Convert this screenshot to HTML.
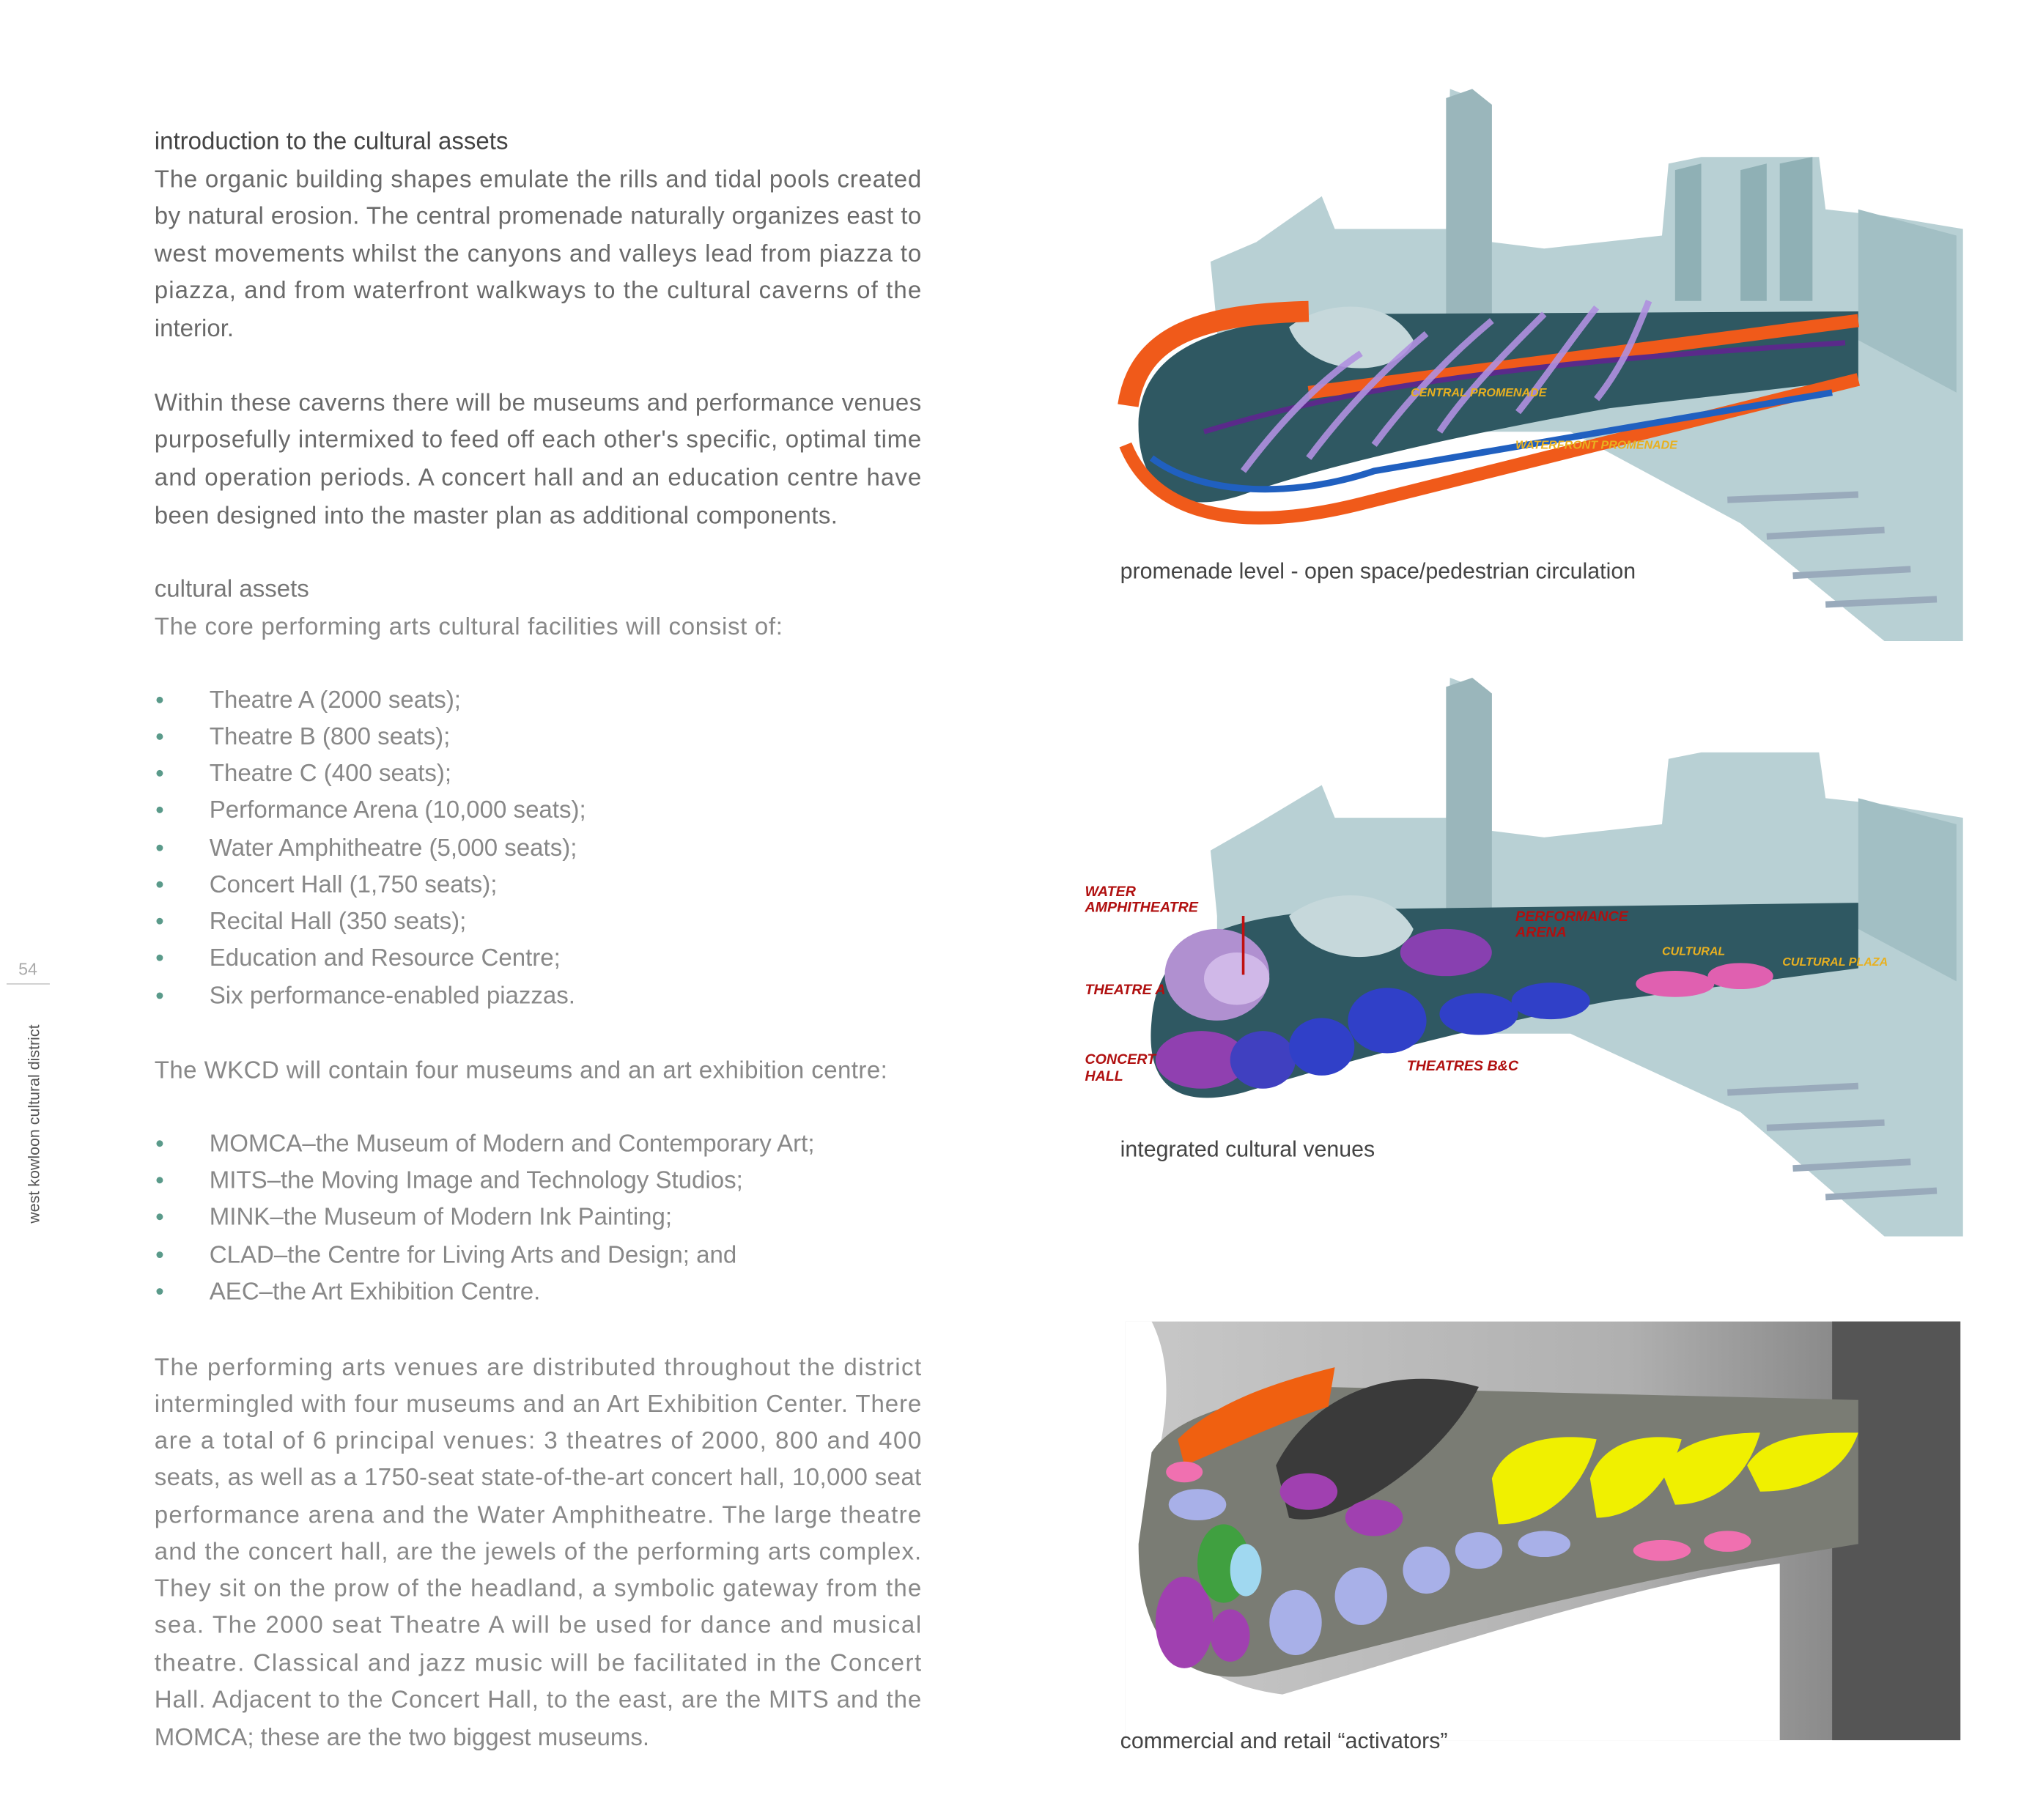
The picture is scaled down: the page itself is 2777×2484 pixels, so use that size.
<!DOCTYPE html>
<html><head><meta charset="utf-8"><style>
html,body{margin:0;padding:0;background:#fff;}
svg{display:block;}
.b{font-family:"Liberation Sans",sans-serif;font-size:18.5px;fill:#6a6a6a;}
.h{font-family:"Liberation Sans",sans-serif;font-size:18.5px;fill:#444;}
.c{font-family:"Liberation Sans",sans-serif;font-size:17px;fill:#444;}
.r{font-family:"Liberation Sans",sans-serif;font-size:11px;font-weight:bold;font-style:italic;fill:#b01010;}
.y{font-family:"Liberation Sans",sans-serif;font-size:9px;font-weight:bold;font-style:italic;fill:#e8b020;}
</style></head><body>
<svg width="2777" height="2484" viewBox="0 0 1555 1391" xmlns="http://www.w3.org/2000/svg">
<rect width="1555" height="1391" fill="#fff"/>
<text x="14" y="745" font-family="Liberation Sans,sans-serif" font-size="13" fill="#aaa">54</text>
<line x1="5" y1="752" x2="38" y2="752" stroke="#ccc" stroke-width="1"/>
<text transform="translate(30,935) rotate(-90)" font-family="Liberation Sans,sans-serif" font-size="12" fill="#555">west kowloon cultural district</text>

<text class="h" x="118" y="114">introduction to the cultural assets</text>
<g class="b">
<text x="118" y="143" textLength="586" lengthAdjust="spacing">The organic building shapes emulate the rills and tidal pools created</text>
<text x="118" y="171" textLength="586" lengthAdjust="spacing">by natural erosion. The central promenade naturally organizes east to</text>
<text x="118" y="200" textLength="586" lengthAdjust="spacing">west movements whilst the canyons and valleys lead from piazza to</text>
<text x="118" y="228" textLength="586" lengthAdjust="spacing">piazza, and from waterfront walkways to the cultural caverns of the</text>
<text x="118" y="257">interior.</text>
<text x="118" y="314" textLength="586" lengthAdjust="spacing">Within these caverns there will be museums and performance venues</text>
<text x="118" y="342" textLength="586" lengthAdjust="spacing">purposefully intermixed to feed off each other's specific, optimal time</text>
<text x="118" y="371" textLength="586" lengthAdjust="spacing">and operation periods. A concert hall and an education centre have</text>
<text x="118" y="400" textLength="522" lengthAdjust="spacing">been designed into the master plan as additional components.</text>
</g>
<text class="h" x="118" y="456" style="fill:#777">cultural assets</text>
<g class="b" style="fill:#888">
<text x="118" y="485" textLength="480" lengthAdjust="spacing">The core performing arts cultural facilities will consist of:</text>
<text x="160" y="541">Theatre A (2000 seats);</text>
<text x="160" y="569">Theatre B (800 seats);</text>
<text x="160" y="597">Theatre C (400 seats);</text>
<text x="160" y="625">Performance Arena (10,000 seats);</text>
<text x="160" y="654">Water Amphitheatre (5,000 seats);</text>
<text x="160" y="682">Concert Hall (1,750 seats);</text>
<text x="160" y="710">Recital Hall (350 seats);</text>
<text x="160" y="738">Education and Resource Centre;</text>
<text x="160" y="767">Six performance-enabled piazzas.</text>
<text x="118" y="824" textLength="560" lengthAdjust="spacing">The WKCD will contain four museums and an art exhibition centre:</text>
<text x="160" y="880">MOMCA–the Museum of Modern and Contemporary Art;</text>
<text x="160" y="908">MITS–the Moving Image and Technology Studios;</text>
<text x="160" y="936">MINK–the Museum of Modern Ink Painting;</text>
<text x="160" y="965">CLAD–the Centre for Living Arts and Design; and</text>
<text x="160" y="993">AEC–the Art Exhibition Centre.</text>
</g>
<g fill="#5a9a8a">
<circle cx="122" cy="535" r="2.5"/><circle cx="122" cy="563" r="2.5"/><circle cx="122" cy="591" r="2.5"/><circle cx="122" cy="619" r="2.5"/><circle cx="122" cy="648" r="2.5"/><circle cx="122" cy="676" r="2.5"/><circle cx="122" cy="704" r="2.5"/><circle cx="122" cy="732" r="2.5"/><circle cx="122" cy="761" r="2.5"/>
<circle cx="122" cy="874" r="2.5"/><circle cx="122" cy="902" r="2.5"/><circle cx="122" cy="930" r="2.5"/><circle cx="122" cy="959" r="2.5"/><circle cx="122" cy="987" r="2.5"/>
</g>
<g class="b" style="fill:#888">
<text x="118" y="1051" textLength="586" lengthAdjust="spacing">The performing arts venues are distributed throughout the district</text>
<text x="118" y="1079" textLength="586" lengthAdjust="spacing">intermingled with four museums and an Art Exhibition Center. There</text>
<text x="118" y="1107" textLength="586" lengthAdjust="spacing">are a total of 6 principal venues: 3 theatres of 2000, 800 and 400</text>
<text x="118" y="1135" textLength="586" lengthAdjust="spacing">seats, as well as a 1750-seat state-of-the-art concert hall, 10,000 seat</text>
<text x="118" y="1164" textLength="586" lengthAdjust="spacing">performance arena and the Water Amphitheatre. The large theatre</text>
<text x="118" y="1192" textLength="586" lengthAdjust="spacing">and the concert hall, are the jewels of the performing arts complex.</text>
<text x="118" y="1220" textLength="586" lengthAdjust="spacing">They sit on the prow of the headland, a symbolic gateway from the</text>
<text x="118" y="1248" textLength="586" lengthAdjust="spacing">sea. The 2000 seat Theatre A will be used for dance and musical</text>
<text x="118" y="1277" textLength="586" lengthAdjust="spacing">theatre. Classical and jazz music will be facilitated in the Concert</text>
<text x="118" y="1305" textLength="586" lengthAdjust="spacing">Hall. Adjacent to the Concert Hall, to the east, are the MITS and the</text>
<text x="118" y="1334">MOMCA; these are the two biggest museums.</text>
</g>

<!-- IMAGE 1 -->
<g>
<polygon points="930,250 925,200 960,185 1010,150 1020,175 1105,175 1108,68 1140,80 1140,185 1180,190 1270,180 1275,125 1300,120 1390,120 1395,160 1440,165 1500,175 1500,490 1440,490 1330,400 1200,330 930,330" fill="#b8d0d4"/>
<polygon points="1105,75 1125,68 1140,80 1140,250 1105,250" fill="#9ab6bb"/>
<polygon points="1280,130 1300,125 1300,230 1280,230" fill="#8fb0b5"/>
<polygon points="1330,130 1350,125 1350,230 1330,230" fill="#8fb0b5"/>
<polygon points="1360,125 1385,120 1385,230 1360,230" fill="#8fb0b5"/>
<polygon points="1420,160 1495,180 1495,300 1420,260" fill="#a2bfc4"/>
<path d="M870,320 C875,265 930,245 1030,240 L1420,238 L1420,290 L1230,312 C1100,335 1000,360 950,378 C900,395 868,375 870,320 Z" fill="#2f5862"/>
<path d="M985,250 C1010,230 1060,225 1080,260 C1070,290 1000,290 985,250 Z" fill="#c6d8db"/>
<path d="M862,310 C870,255 920,240 1000,238" stroke="#f05a1a" stroke-width="16" fill="none"/>
<path d="M860,340 C880,390 940,410 1040,385 L1420,290" stroke="#f05a1a" stroke-width="10" fill="none"/>
<path d="M880,350 C920,380 990,380 1050,360 L1400,300" stroke="#2060c0" stroke-width="5" fill="none"/>
<path d="M1000,300 C1150,280 1300,260 1420,245" stroke="#f05a1a" stroke-width="10" fill="none"/>
<path d="M920,330 C1050,290 1200,275 1410,262" stroke="#5a2a8a" stroke-width="4" fill="none"/>
<g stroke="#b090e0" stroke-width="5" fill="none" opacity="0.9">
<path d="M950,360 C980,320 1010,290 1040,270"/><path d="M1000,350 C1030,310 1060,280 1090,255"/><path d="M1050,340 C1080,300 1110,270 1140,245"/><path d="M1100,330 C1120,300 1150,270 1180,240"/><path d="M1160,315 C1180,290 1200,260 1220,235"/><path d="M1220,305 C1240,280 1250,255 1260,230"/>
</g>
<text class="y" x="1078" y="303">CENTRAL PROMENADE</text>
<text class="y" x="1158" y="343">WATERFRONT PROMENADE</text>
<g stroke="#9ab" stroke-width="5"><line x1="1320" y1="382" x2="1420" y2="378"/><line x1="1350" y1="410" x2="1440" y2="405"/><line x1="1370" y1="440" x2="1460" y2="435"/><line x1="1395" y1="462" x2="1480" y2="458"/></g>
</g>
<text class="c" x="856" y="442">promenade level - open space/pedestrian circulation</text>

<!-- IMAGE 2 -->
<g>
<polygon points="930,700 925,650 960,630 1010,600 1020,625 1105,625 1108,518 1140,530 1140,635 1180,640 1270,630 1275,580 1300,575 1390,575 1395,610 1440,615 1500,625 1500,945 1440,945 1330,850 1200,790 930,790" fill="#b8d0d4"/>
<polygon points="1105,525 1125,518 1140,530 1140,700 1105,700" fill="#9ab6bb"/>
<polygon points="1420,610 1495,630 1495,750 1420,710" fill="#a2bfc4"/>
<path d="M880,780 C885,720 930,700 1030,695 L1420,690 L1420,740 L1230,765 C1100,790 1000,820 950,835 C900,848 875,830 880,780 Z" fill="#2f5862"/>
<path d="M985,700 C1010,680 1060,675 1080,710 C1070,740 1000,740 985,700 Z" fill="#c6d8db"/>
<ellipse cx="930" cy="745" rx="40" ry="35" fill="#b090d0"/>
<ellipse cx="945" cy="748" rx="25" ry="20" fill="#d0b8e8"/>
<ellipse cx="918" cy="810" rx="35" ry="22" fill="#9040b0"/>
<ellipse cx="965" cy="810" rx="25" ry="22" fill="#4040c0"/>
<ellipse cx="1010" cy="800" rx="25" ry="22" fill="#3040c8"/>
<ellipse cx="1060" cy="780" rx="30" ry="25" fill="#3040c8"/>
<ellipse cx="1105" cy="728" rx="35" ry="18" fill="#8840b0"/>
<ellipse cx="1130" cy="775" rx="30" ry="16" fill="#3040c8"/>
<ellipse cx="1185" cy="765" rx="30" ry="14" fill="#3040c8"/>
<ellipse cx="1280" cy="752" rx="30" ry="10" fill="#e060b0"/>
<ellipse cx="1330" cy="746" rx="25" ry="10" fill="#e060b0"/>
<line x1="950" y1="700" x2="950" y2="745" stroke="#c01010" stroke-width="2"/>
<text class="r" x="829" y="685">WATER</text><text class="r" x="829" y="697">AMPHITHEATRE</text>
<text class="r" x="829" y="760">THEATRE A</text>
<text class="r" x="829" y="813">CONCERT</text><text class="r" x="829" y="826">HALL</text>
<text class="r" x="1158" y="704">PERFORMANCE</text><text class="r" x="1158" y="716">ARENA</text>
<text class="r" x="1075" y="818">THEATRES B&amp;C</text>
<text class="y" x="1270" y="730">CULTURAL</text><text class="y" x="1362" y="738">CULTURAL PLAZA</text>
<g stroke="#9ab" stroke-width="5"><line x1="1320" y1="835" x2="1420" y2="830"/><line x1="1350" y1="862" x2="1440" y2="858"/><line x1="1370" y1="893" x2="1460" y2="888"/><line x1="1395" y1="915" x2="1480" y2="910"/></g>
</g>
<text class="c" x="856" y="884">integrated cultural venues</text>

<!-- IMAGE 3 -->
<defs><linearGradient id="g3" x1="0" y1="0" x2="1" y2="0"><stop offset="0" stop-color="#c8c8c8"/><stop offset="0.6" stop-color="#b0b0b0"/><stop offset="0.85" stop-color="#8a8a8a"/><stop offset="1" stop-color="#505050"/></linearGradient></defs>
<rect x="860" y="1010" width="638" height="320" fill="url(#g3)"/>
<rect x="1400" y="1010" width="98" height="320" fill="#555"/>
<path d="M860,1010 L880,1010 C900,1050 890,1100 875,1150 C865,1230 900,1285 980,1295 C1100,1260 1250,1210 1360,1195 L1360,1330 L860,1330 Z" fill="#fff"/>
<path d="M880,1110 C900,1080 950,1070 1010,1060 L1420,1070 L1420,1180 L1300,1200 C1150,1230 1050,1260 960,1280 C900,1290 870,1250 870,1180 Z" fill="#7a7c74"/>
<path d="M975,1120 C1000,1070 1060,1040 1130,1060 C1100,1120 1020,1170 985,1160 Z" fill="#3a3a3a"/>
<path d="M900,1100 C930,1070 980,1055 1020,1045 L1015,1075 C970,1090 930,1110 905,1120 Z" fill="#f06010"/>
<g fill="#f0f000">
<path d="M1140,1130 C1150,1100 1190,1095 1220,1100 C1210,1140 1180,1165 1145,1165 Z"/>
<path d="M1215,1130 C1225,1100 1260,1095 1285,1100 C1275,1135 1250,1160 1220,1160 Z"/>
<path d="M1270,1125 C1280,1100 1320,1095 1345,1095 C1335,1130 1310,1150 1280,1150 Z"/>
<path d="M1335,1120 C1350,1095 1390,1095 1420,1095 C1410,1125 1380,1140 1345,1140 Z"/>
</g>
<g fill="#a040b0">
<ellipse cx="905" cy="1240" rx="22" ry="35"/><ellipse cx="1050" cy="1160" rx="22" ry="14"/><ellipse cx="1000" cy="1140" rx="22" ry="14"/><ellipse cx="940" cy="1250" rx="15" ry="20"/>
</g>
<g fill="#a8b0e8">
<ellipse cx="915" cy="1150" rx="22" ry="12"/><ellipse cx="990" cy="1240" rx="20" ry="25"/><ellipse cx="1040" cy="1220" rx="20" ry="22"/><ellipse cx="1090" cy="1200" rx="18" ry="18"/><ellipse cx="1130" cy="1185" rx="18" ry="14"/><ellipse cx="1180" cy="1180" rx="20" ry="10"/>
</g>
<ellipse cx="935" cy="1195" rx="20" ry="30" fill="#40a040"/>
<ellipse cx="952" cy="1200" rx="12" ry="20" fill="#a0d8f0"/>
<g fill="#f070b0"><ellipse cx="905" cy="1125" rx="14" ry="8"/><ellipse cx="1270" cy="1185" rx="22" ry="8"/><ellipse cx="1320" cy="1178" rx="18" ry="8"/></g>
<text class="c" x="856" y="1336">commercial and retail “activators”</text>
</svg>
</body></html>
